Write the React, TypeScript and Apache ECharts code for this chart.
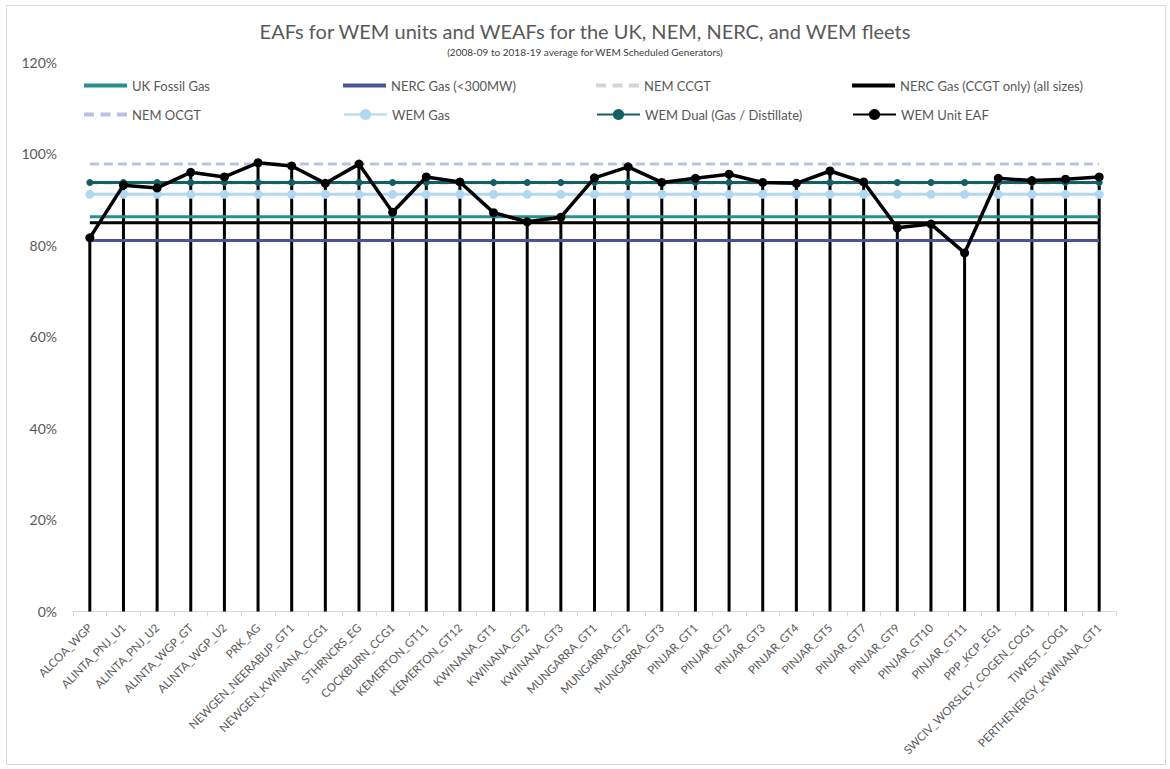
import React, { useEffect, useRef } from "react";
import * as echarts from "echarts";

const categories = [
  "ALCOA_WGP", "ALINTA_PNJ_U1", "ALINTA_PNJ_U2", "ALINTA_WGP_GT", "ALINTA_WGP_U2",
  "PRK_AG", "NEWGEN_NEERABUP_GT1", "NEWGEN_KWINANA_CCG1", "STHRNCRS_EG", "COCKBURN_CCG1",
  "KEMERTON_GT11", "KEMERTON_GT12", "KWINANA_GT1", "KWINANA_GT2", "KWINANA_GT3",
  "MUNGARRA_GT1", "MUNGARRA_GT2", "MUNGARRA_GT3", "PINJAR_GT1", "PINJAR_GT2",
  "PINJAR_GT3", "PINJAR_GT4", "PINJAR_GT5", "PINJAR_GT7", "PINJAR_GT9",
  "PINJAR_GT10", "PINJAR_GT11", "PPP_KCP_EG1", "SWCIV_WORSLEY_COGEN_COG1", "TIWEST_COG1",
  "PERTHENERGY_KWINANA_GT1",
];

const wemUnitEAF = [
  81.6, 93.1, 92.5, 95.9, 94.9, 98.0, 97.3, 93.5, 97.7, 87.2,
  94.9, 93.8, 87.1, 85.1, 86.1, 94.7, 97.1, 93.7, 94.6, 95.5,
  93.7, 93.5, 96.2, 93.8, 83.8, 84.6, 78.3, 94.6, 94.1, 94.4,
  94.9,
];

// Fleet-wide WEAF values (constant reference lines)
const ukFossilGas = 86.2;
const nercGasSmall = 81.0;
const nemCCGT = 93.6;
const nercGasCCGT = 84.9;
const nemOCGT = 97.7;
const wemGas = 91.1;
const wemDual = 93.7;

const yTicks = [0, 20, 40, 60, 80, 100, 120];

const seriesNames = [
  "UK Fossil Gas",
  "NERC Gas (<300MW)",
  "NEM CCGT",
  "NERC Gas (CCGT only) (all sizes)",
  "NEM OCGT",
  "WEM Gas",
  "WEM Dual (Gas / Distillate)",
  "WEM Unit EAF",
];

const FONT = "Lato, 'Open Sans', sans-serif";
const TEXT = "#595959";

const flat = (v: number) => categories.map(() => v);

export default function App() {
  const ref = useRef<HTMLDivElement>(null);

  useEffect(() => {
    if (!ref.current) return;
    const chart = echarts.init(ref.current, null, { renderer: "svg" });

    const solidIcon = "path://M0,0h43v4h-43z";
    const dashIcon = "path://M0,0h10v4h-10z M16.5,0h10v4h-10z M33,0h10v4h-10z";

    // [left, rowCenterY, icon (undefined => line + marker)]
    const legendSpec: any[] = [
      [84, 86, solidIcon],
      [343, 86, solidIcon],
      [596, 86, dashIcon],
      [852, 86, solidIcon],
      [84, 115, dashIcon],
      [343, 115, undefined],
      [596, 115, undefined],
      [852, 115, undefined],
    ];

    const legends = seriesNames.map((n, i) => {
      const [left, cy, icon] = legendSpec[i];
      const h = icon ? 4 : 14;
      return {
        data: [icon ? { name: n, icon } : n],
        left,
        top: cy - 7,
        padding: 0,
        orient: "horizontal",
        itemWidth: 43,
        itemHeight: h,
        selectedMode: false,
        textStyle: { fontFamily: FONT, fontSize: 13, color: TEXT },
      };
    });

    const hLine = (name: string, value: number, color: string, extra: any = {}) => ({
      name,
      type: "line",
      data: flat(value),
      showSymbol: false,
      symbol: "none",
      lineStyle: { color, width: 3, ...(extra.lineStyle || {}) },
      itemStyle: { color },
      z: extra.z ?? 2,
      silent: true,
    });

    const option: any = {
      animation: false,
      backgroundColor: "#ffffff",
      title: {
        text: "EAFs for WEM units and WEAFs for the UK, NEM, NERC, and WEM fleets",
        subtext: "(2008-09 to 2018-19 average for WEM Scheduled Generators)",
        left: "center",
        top: 16,
        itemGap: 6,
        textStyle: { fontFamily: FONT, fontSize: 20, fontWeight: "normal", color: TEXT },
        subtextStyle: { fontFamily: FONT, fontSize: 10, color: "#404040" },
      },
      legend: legends,
      grid: { left: 73, right: 54, top: 62, bottom: 157.5, containLabel: false },
      xAxis: {
        type: "category",
        data: categories,
        boundaryGap: true,
        axisLine: { lineStyle: { color: "#d9d9d9", width: 1 } },
        axisTick: { show: true, interval: 0, length: 5, lineStyle: { color: "#d9d9d9" } },
        axisLabel: {
          interval: 0,
          rotate: 45,
          fontFamily: FONT,
          fontSize: 11.5,
          color: TEXT,
          margin: 14,
        },
      },
      yAxis: {
        type: "value",
        min: yTicks[0],
        max: yTicks[yTicks.length - 1],
        interval: 20,
        axisLine: { show: false },
        axisTick: { show: false },
        splitLine: { show: false },
        axisLabel: {
          formatter: "{value}%",
          fontFamily: FONT,
          fontSize: 14,
          color: TEXT,
          margin: 16,
        },
      },
      series: [
        {
          name: "drop",
          type: "bar",
          data: wemUnitEAF,
          barWidth: 3,
          itemStyle: { color: "#000000" },
          z: 1,
          silent: true,
        },
        hLine("UK Fossil Gas", ukFossilGas, "#25908F"),
        hLine("NERC Gas (<300MW)", nercGasSmall, "#4A5593"),
        hLine("NEM CCGT", nemCCGT, "#D6D5CF", { lineStyle: { type: [9, 5] }, z: 1.5 }),
        hLine("NERC Gas (CCGT only) (all sizes)", nercGasCCGT, "#000000"),
        hLine("NEM OCGT", nemOCGT, "#B8C3E2", { lineStyle: { type: [9, 5] } }),
        {
          name: "WEM Gas",
          type: "line",
          data: flat(wemGas),
          symbol: "circle",
          symbolSize: 9,
          showSymbol: true,
          lineStyle: { color: "#B0D8F0", width: 3 },
          itemStyle: { color: "#B0D8F0" },
          z: 2,
          silent: true,
        },
        {
          name: "WEM Dual (Gas / Distillate)",
          type: "line",
          data: flat(wemDual),
          symbol: "circle",
          symbolSize: 7,
          showSymbol: true,
          lineStyle: { color: "#145F63", width: 3 },
          itemStyle: { color: "#145F63" },
          z: 2,
          silent: true,
        },
        {
          name: "WEM Unit EAF",
          type: "line",
          data: wemUnitEAF,
          symbol: "circle",
          symbolSize: 9,
          showSymbol: true,
          lineStyle: { color: "#000000", width: 3.5 },
          itemStyle: { color: "#000000" },
          z: 3,
          silent: true,
        },
      ],
      graphic: [
        {
          type: "rect",
          silent: true,
          shape: { x: 6.5, y: 5.5, width: 1159, height: 759 },
          style: { fill: "none", stroke: "#d9d9d9", lineWidth: 1 },
          z: -1,
        },
      ],
    };

    chart.setOption(option);
    return () => chart.dispose();
  }, []);

  return (
    <div
      ref={ref}
      style={{ position: "fixed", left: 0, top: 0, width: 1170, height: 769, background: "#fff" }}
    />
  );
}
